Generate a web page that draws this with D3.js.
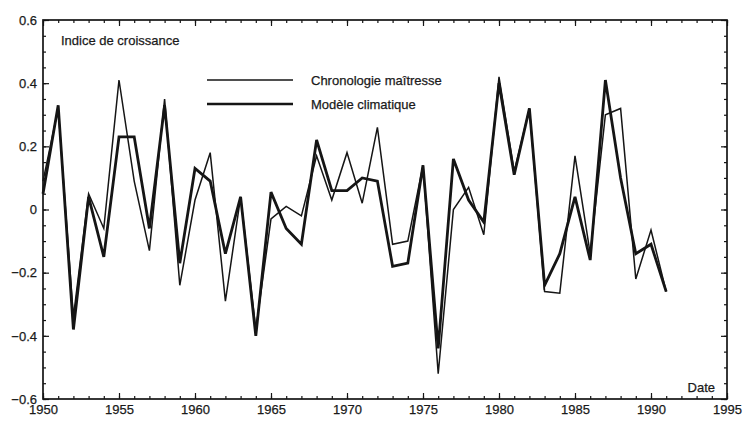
<!DOCTYPE html>
<html>
<head>
<meta charset="utf-8">
<script src="https://cdn.jsdelivr.net/npm/d3@7"></script>
<style>
  html, body { margin: 0; padding: 0; background: #fff; }
  svg { display: block; }
  text { font-family: "Liberation Sans", Arial, sans-serif; fill: #1a1a1a; stroke: #1a1a1a; stroke-width: 0.25px; }
</style>
</head>
<body>
<svg id="chart" width="747" height="423"></svg>
<script>
// ---- data ----
const years = d3.range(1950, 1992);
const chronologie = [0.09, 0.32, -0.34, 0.05, -0.06, 0.41, 0.09, -0.13, 0.35, -0.24,
  0.03, 0.18, -0.29, 0.04, -0.38, -0.03, 0.01, -0.02, 0.17, 0.03,
  0.18, 0.02, 0.26, -0.11, -0.10, 0.14, -0.52, 0.00, 0.07, -0.08,
  0.42, 0.12, 0.32, -0.26, -0.265, 0.17, -0.14, 0.30, 0.32, -0.22,
  -0.065, -0.26];
const modele = [0.05, 0.33, -0.38, 0.04, -0.15, 0.23, 0.23, -0.06, 0.33, -0.17,
  0.13, 0.09, -0.14, 0.04, -0.40, 0.055, -0.06, -0.11, 0.22, 0.06,
  0.06, 0.10, 0.09, -0.18, -0.17, 0.14, -0.44, 0.16, 0.03, -0.04,
  0.40, 0.11, 0.32, -0.24, -0.14, 0.04, -0.16, 0.41, 0.10, -0.14,
  -0.11, -0.26];
const xTicks = [1950, 1955, 1960, 1965, 1970, 1975, 1980, 1985, 1990, 1995];
const yTicks = [-0.6, -0.4, -0.2, 0, 0.2, 0.4, 0.6];
const seriesNames = ["Chronologie maîtresse", "Modèle climatique"];
const yTitle = "Indice de croissance";
const xTitle = "Date";

// ---- layout ----
const svg = d3.select("#chart");
const L = 43, R = 727, T = 20, B = 399;
const x = d3.scaleLinear().domain([1950, 1995]).range([L, R]);
const y = d3.scaleLinear().domain([-0.6, 0.6]).range([B, T]);
const ink = "#151515";

const fmtY = d => d === 0 ? "0" : d3.format(".1f")(d);
const minorX = d3.range(1950, 1996);
const minorY = d3.range(-12, 13).map(i => +(i * 0.05).toFixed(2));

function styleAxis(g) {
  g.select(".domain").remove();
  g.selectAll("line").attr("stroke", ink).attr("stroke-width", 1.2);
  g.selectAll("text").attr("font-size", 13).attr("fill", "#1a1a1a");
}

// bottom
svg.append("g").attr("transform", `translate(0,${B})`)
  .call(d3.axisBottom(x).tickValues(minorX).tickSize(-3).tickFormat(""))
  .call(styleAxis);
svg.append("g").attr("transform", `translate(0,${B})`)
  .call(d3.axisBottom(x).tickValues(xTicks).tickSize(-6).tickPadding(6).tickFormat(d3.format("d")))
  .call(styleAxis);
// top
svg.append("g").attr("transform", `translate(0,${T})`)
  .call(d3.axisTop(x).tickValues(minorX).tickSize(-3).tickFormat(""))
  .call(styleAxis);
svg.append("g").attr("transform", `translate(0,${T})`)
  .call(d3.axisTop(x).tickValues(xTicks).tickSize(-6).tickFormat(""))
  .call(styleAxis);
// left
svg.append("g").attr("transform", `translate(${L},0)`)
  .call(d3.axisLeft(y).tickValues(minorY).tickSize(-3).tickFormat(""))
  .call(styleAxis);
svg.append("g").attr("transform", `translate(${L},0)`)
  .call(d3.axisLeft(y).tickValues(yTicks).tickSize(-6).tickPadding(6).tickFormat(fmtY))
  .call(styleAxis);
// right
svg.append("g").attr("transform", `translate(${R},0)`)
  .call(d3.axisRight(y).tickValues(minorY).tickSize(-3).tickFormat(""))
  .call(styleAxis);
svg.append("g").attr("transform", `translate(${R},0)`)
  .call(d3.axisRight(y).tickValues(yTicks).tickSize(-6).tickFormat(""))
  .call(styleAxis);

// frame
svg.append("rect").attr("x", L).attr("y", T).attr("width", R - L).attr("height", B - T)
  .attr("fill", "none").attr("stroke", ink).attr("stroke-width", 1.7);

// lines
const line = vals => d3.line().x((d, i) => x(years[i])).y(d => y(d))(vals);
svg.append("path").attr("d", line(chronologie))
  .attr("fill", "none").attr("stroke", ink).attr("stroke-width", 1.5).attr("stroke-linejoin", "miter");
svg.append("path").attr("d", line(modele))
  .attr("fill", "none").attr("stroke", ink).attr("stroke-width", 2.8).attr("stroke-linejoin", "miter");

// titles
svg.append("text").attr("x", 61).attr("y", 45).attr("font-size", 13).text(yTitle);
svg.append("text").attr("x", 715).attr("y", 392).attr("font-size", 13).attr("text-anchor", "end").text(xTitle);

// legend
const legY = [80, 104], legW = [1.6, 2.4];
seriesNames.forEach((n, i) => {
  svg.append("line").attr("x1", 207).attr("x2", 293).attr("y1", legY[i]).attr("y2", legY[i])
    .attr("stroke", ink).attr("stroke-width", legW[i]);
  svg.append("text").attr("x", 311).attr("y", legY[i] + 4.5).attr("font-size", 13).text(n);
});
</script>
</body>
</html>
